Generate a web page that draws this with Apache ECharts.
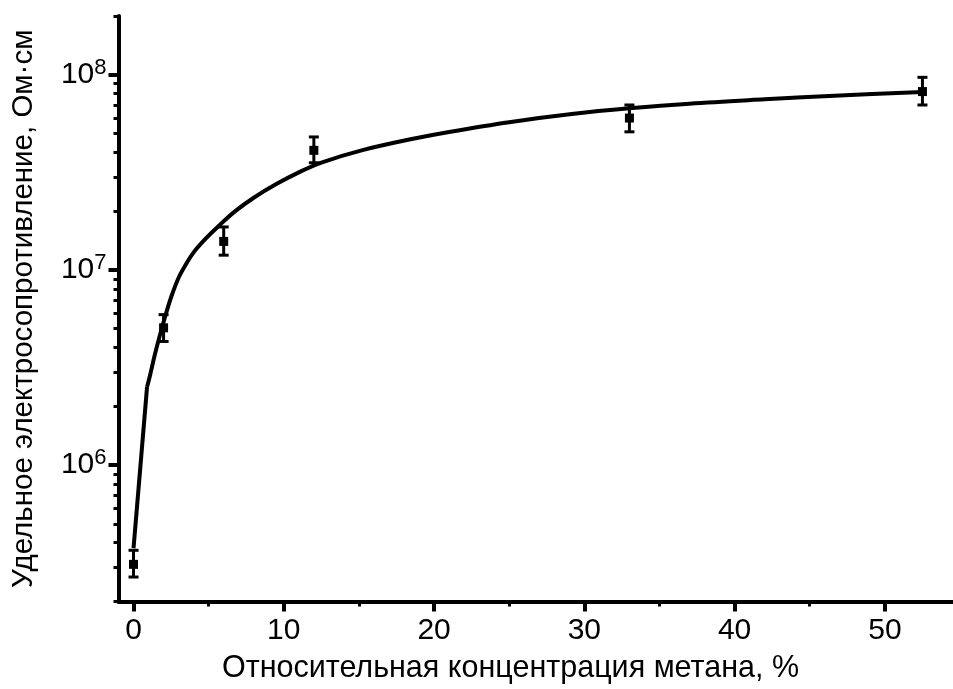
<!DOCTYPE html>
<html>
<head>
<meta charset="utf-8">
<script src="https://cdn.jsdelivr.net/npm/echarts@6/dist/echarts.min.js"></script>
<style>
html, body { margin: 0; padding: 0; background: #ffffff; }
#chart { width: 953px; height: 689px; }
</style>
</head>
<body>
<div id="chart"></div>
<script>
// Measured resistivity (Ohm*cm) versus relative methane concentration (%)
const concentration = [0, 2, 6, 12, 33, 52.5];
const resistivity   = [3.1e5, 5.05e6, 1.4e7, 4.1e7, 6.0e7, 8.2e7];
const errLow        = [2.67e5, 4.3e6, 1.19e7, 3.54e7, 5.1e7, 7.0e7];
const errHigh       = [3.66e5, 5.9e6, 1.66e7, 4.8e7, 7.0e7, 9.7e7];

// Fitted curve: steep start segment, then the smooth part
const fitStartX = [0, 0.9];
const fitStartY = [3.75e5, 2.512e6];
const fitX = [0.9, 1.1, 1.4, 1.7, 2.1, 2.5, 3.0, 3.5, 4.0, 4.8, 5.7, 6.75, 8.0, 9.5, 11,
              12.5, 15.3, 18.6, 21, 25, 29.3, 33, 37, 42, 47, 52.5];
const fitY = [2.512e6, 2.884e6, 3.631e6, 4.467e6, 5.754e6, 7.244e6, 9.12e6, 1.072e7, 1.23e7,
              1.445e7, 1.69e7, 1.995e7, 2.344e7, 2.754e7, 3.162e7, 3.548e7, 4.121e7, 4.699e7,
              5.093e7, 5.715e7, 6.31e7, 6.73e7, 7.112e7, 7.482e7, 7.834e7, 8.166e7];

// Axis ticks and labels
const xMajorTicks = [0, 10, 20, 30, 40, 50];
const xMinorTicks = [5, 15, 25, 35, 45];
const yMajorTicks = [1e6, 1e7, 1e8];
const yTickExponents = ['6', '7', '8'];
const yMinorTicks = [2e5, 3e5, 4e5, 5e5, 6e5, 7e5, 8e5, 9e5,
                     2e6, 3e6, 4e6, 5e6, 6e6, 7e6, 8e6, 9e6,
                     2e7, 3e7, 4e7, 5e7, 6e7, 7e7, 8e7, 9e7, 2e8];

const X_MIN = -1, X_MAX = 54.5, Y_MIN = 2e5, Y_MAX = 2e8;
const FONT = 'Liberation Sans, Arial, sans-serif';
const BLACK = '#000000';

const zip = (xs, ys) => xs.map((x, i) => [x, ys[i]]);

const chart = echarts.init(document.getElementById('chart'), null, { renderer: 'canvas' });

const option = {
  backgroundColor: '#ffffff',
  animation: false,
  grid: { left: 118.5, right: 0.5, top: 16, bottom: 87.5, containLabel: false, outerBoundsMode: 'none' },
  xAxis: [
    {
      type: 'value', min: X_MIN, max: X_MAX, position: 'bottom',
      name: 'Относительная концентрация метана, %',
      nameLocation: 'middle', nameGap: 52,
      nameTextStyle: { fontFamily: FONT, fontSize: 30.5, color: BLACK, padding: [0, 50, 0, 0] },
      axisLine: { show: true, onZero: false, lineStyle: { color: BLACK, width: 4 } },
      axisTick: { show: true, customValues: xMajorTicks, length: 10, lineStyle: { color: BLACK, width: 4 } },
      axisLabel: { show: true, customValues: xMajorTicks, margin: 14, fontFamily: FONT, fontSize: 30, color: BLACK },
      splitLine: { show: false }
    },
    {
      type: 'value', min: X_MIN, max: X_MAX, position: 'bottom',
      axisLine: { show: false, onZero: false },
      axisTick: { show: true, customValues: xMinorTicks, length: 5, lineStyle: { color: BLACK, width: 3 } },
      axisLabel: { show: false },
      splitLine: { show: false }
    }
  ],
  yAxis: [
    {
      type: 'log', logBase: 10, min: Y_MIN, max: Y_MAX, position: 'left',
      name: 'Удельное электросопротивление, Ом·см',
      nameLocation: 'middle', nameGap: 80, nameRotate: 90,
      nameTextStyle: { fontFamily: FONT, fontSize: 29.5, color: BLACK },
      axisLine: { show: true, onZero: false, lineStyle: { color: BLACK, width: 4 } },
      axisTick: { show: true, customValues: yMajorTicks, length: 10, lineStyle: { color: BLACK, width: 4 } },
      axisLabel: {
        show: true, customValues: yMajorTicks, margin: 12,
        fontFamily: FONT, color: BLACK,
        formatter: function (v) {
          const i = yMajorTicks.findIndex(t => Math.abs(Math.log10(t) - Math.log10(v)) < 1e-6);
          return '{b|10}{s|' + (i >= 0 ? yTickExponents[i] : '') + '}';
        },
        rich: {
          b: { fontFamily: FONT, fontSize: 30, lineHeight: 36, color: BLACK },
          s: { fontFamily: FONT, fontSize: 22, lineHeight: 22, verticalAlign: 'top', color: BLACK }
        }
      },
      splitLine: { show: false }
    },
    {
      type: 'log', logBase: 10, min: Y_MIN, max: Y_MAX, position: 'left',
      axisLine: { show: false, onZero: false },
      axisTick: { show: true, customValues: yMinorTicks, length: 5, lineStyle: { color: BLACK, width: 3 } },
      axisLabel: { show: false },
      splitLine: { show: false }
    }
  ],
  series: [
    {
      type: 'line', name: 'fit-start', xAxisIndex: 0, yAxisIndex: 0,
      data: zip(fitStartX, fitStartY), showSymbol: false, smooth: false,
      lineStyle: { color: BLACK, width: 4 }, z: 2
    },
    {
      type: 'line', name: 'fit', xAxisIndex: 0, yAxisIndex: 0,
      data: zip(fitX, fitY), showSymbol: false, smooth: 0.35,
      lineStyle: { color: BLACK, width: 4 }, z: 2
    },
    {
      type: 'custom', name: 'measured', xAxisIndex: 0, yAxisIndex: 0, z: 3,
      data: concentration.map((x, i) => [x, resistivity[i], errLow[i], errHigh[i]]),
      renderItem: function (params, api) {
        const c = api.coord([api.value(0), api.value(1)]);
        const lo = api.coord([api.value(0), api.value(2)]);
        const hi = api.coord([api.value(0), api.value(3)]);
        const cap = 5, sq = 4.5;
        const st = { stroke: BLACK, lineWidth: 3 };
        return {
          type: 'group',
          children: [
            { type: 'line', shape: { x1: c[0], y1: lo[1], x2: c[0], y2: hi[1] }, style: st },
            { type: 'line', shape: { x1: c[0] - cap, y1: lo[1], x2: c[0] + cap, y2: lo[1] }, style: st },
            { type: 'line', shape: { x1: c[0] - cap, y1: hi[1], x2: c[0] + cap, y2: hi[1] }, style: st },
            { type: 'rect', shape: { x: c[0] - sq, y: c[1] - sq, width: sq * 2, height: sq * 2 }, style: { fill: BLACK } }
          ]
        };
      }
    }
  ]
};

chart.setOption(option);
</script>
</body>
</html>
